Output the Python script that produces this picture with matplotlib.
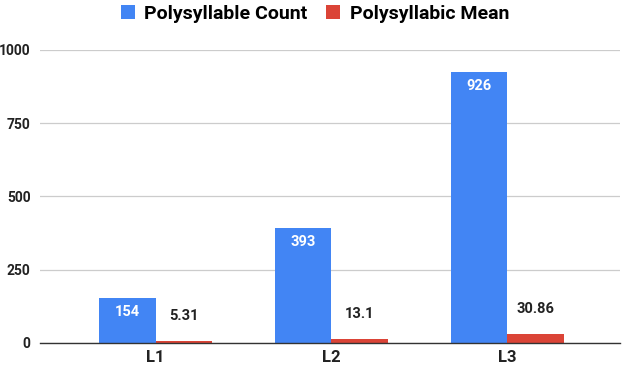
import numpy as np
import matplotlib
matplotlib.use('Agg')
import matplotlib.pyplot as plt
from matplotlib.patches import Patch

plt.rcParams['font.family'] = ['Roboto', 'DejaVu Sans']

levels = ['L1', 'L2', 'L3']
poly_count = [154, 393, 926]
poly_mean = [5.31, 13.1, 30.86]
count_labels = ['154', '393', '926']
mean_labels = ['5.31', '13.1', '30.86']
series_names = ['Polysyllable Count', 'Polysyllabic Mean']
yticks = [0, 250, 500, 750, 1000]

blue = '#4285F4'
red = '#DB4437'

fig = plt.figure(figsize=(6.3, 3.72), dpi=100)
ax = fig.add_axes([0.064, 0.078, 0.92, 0.788])

x = np.arange(len(levels))
w = 0.32
b1 = ax.bar(x - w / 2, poly_count, w, color=blue, zorder=3)
b2 = ax.bar(x + w / 2, poly_mean, w, color=red, zorder=3)

for rect, lab in zip(b1, count_labels):
    ax.annotate(lab, (rect.get_x() + rect.get_width() / 2, rect.get_height()),
                xytext=(0, -10.5), textcoords='offset points', ha='center', va='center',
                color='white', fontsize=10.5, fontweight='bold', zorder=4)
for rect, lab in zip(b2, mean_labels):
    ax.annotate(lab, (rect.get_x() + rect.get_width() / 2, rect.get_height()),
                xytext=(0, 18), textcoords='offset points', ha='center', va='center',
                color='#222222', fontsize=10.5, fontweight='bold', zorder=4)

ax.set_xlim(-0.655, 2.64)
ax.set_ylim(0, 1000)
ax.set_yticks(yticks)
ax.set_yticklabels([str(t) for t in yticks], fontsize=10, fontweight='bold', color='#222222')
ax.set_xticks(x)
ax.set_xticklabels(levels, fontsize=12, fontweight='bold', color='#222222')
ax.tick_params(axis='both', length=0)
ax.tick_params(axis='y', pad=7)
ax.tick_params(axis='x', pad=5)
ax.grid(axis='y', color='#cccccc', linewidth=0.9, zorder=0)
for s in ['top', 'right', 'left']:
    ax.spines[s].set_visible(False)
ax.spines['bottom'].set_color('#333333')
ax.spines['bottom'].set_linewidth(1)
ax.spines['bottom'].set_zorder(5)

handles = [Patch(facecolor=blue), Patch(facecolor=red)]
fig.legend(handles, series_names, loc='center', bbox_to_anchor=(0.5, 0.962), ncol=2,
           frameon=False, prop={'weight': 'bold', 'size': 14},
           handlelength=0.72, handleheight=0.72, handletextpad=0.5, columnspacing=0.95,
           borderpad=0, borderaxespad=0)

fig.savefig('out.png', dpi=100, facecolor='white')
